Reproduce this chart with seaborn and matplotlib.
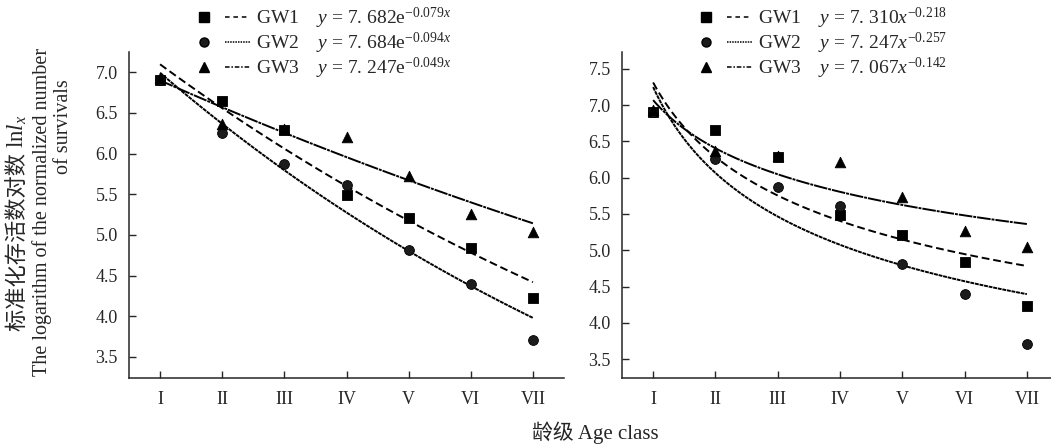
import numpy as np
import pandas as pd
import seaborn as sns
import matplotlib.pyplot as plt
from matplotlib.lines import Line2D
from matplotlib.legend_handler import HandlerTuple

age_classes = ["I", "II", "III", "IV", "V", "VI", "VII"]
groups = ["GW1", "GW2", "GW3"]
gw1 = [6.91, 6.65, 6.29, 5.49, 5.21, 4.84, 4.23]
gw2 = [6.91, 6.25, 5.87, 5.61, 4.81, 4.40, 3.71]
gw3 = [6.93, 6.37, 6.30, 6.21, 5.73, 5.26, 5.04]

# fitted equations shown in the legends: y = a*exp(b*x) and y = a*x**b
exp_a = [7.682, 7.684, 7.247]
exp_b = [-0.079, -0.094, -0.049]
pow_a = [7.310, 7.247, 7.067]
pow_b = [-0.218, -0.257, -0.142]
exp_labels = ["7. 682e$^{-0.079x}$", "7. 684e$^{-0.094x}$", "7. 247e$^{-0.049x}$"]
pow_labels = ["7. 310$x^{-0.218}$", "7. 247$x^{-0.257}$", "7. 067$x^{-0.142}$"]

sns.set_style("ticks")
plt.rcParams["font.family"] = ["Liberation Serif", "Noto Sans CJK SC"]
plt.rcParams["mathtext.fontset"] = "custom"
plt.rcParams["mathtext.rm"] = "Liberation Serif"
plt.rcParams["mathtext.it"] = "Liberation Serif:italic"

pts = pd.DataFrame({
    "x": list(range(1, 8)) * 3,
    "y": gw1 + gw2 + gw3,
    "group": [g for g in groups for _ in range(7)],
})

xs = np.linspace(1, 7, 120)
exp_df = pd.DataFrame({
    "x": np.tile(xs, 3),
    "y": np.concatenate([a * np.exp(b * xs) for a, b in zip(exp_a, exp_b)]),
    "group": np.repeat(groups, len(xs)),
})
pow_df = pd.DataFrame({
    "x": np.tile(xs, 3),
    "y": np.concatenate([a * xs ** b for a, b in zip(pow_a, pow_b)]),
    "group": np.repeat(groups, len(xs)),
})

markers = {"GW1": "s", "GW2": "o", "GW3": "^"}
curve_dashes = {"GW1": (4, 2), "GW2": (2, 0.4), "GW3": (7, 0.5, 1.5, 0.5)}
legend_dashes = {"GW1": (3, 2.5), "GW2": (1, 0.7), "GW3": (3, 1.2, 1, 1.2)}
msize = {"GW1": 42, "GW2": 50, "GW3": 58}
face = {"GW1": "black", "GW2": "#1c1c1c", "GW3": "black"}

fig = plt.figure(figsize=(10.51, 4.47), dpi=100)
ax1 = fig.add_axes([129 / 1051, 1 - 378 / 447, 435 / 1051, 326 / 447])
ax2 = fig.add_axes([622 / 1051, 1 - 378 / 447, 436 / 1051, 326 / 447])


def draw(ax, curves, ylim, yticks, labels, legx):
    sns.lineplot(data=curves, x="x", y="y", hue="group", style="group",
                 palette=["black"] * 3, dashes=curve_dashes, lw=1.4, ax=ax, legend=False)
    for g in groups:
        d = pts[pts.group == g]
        sns.scatterplot(data=d, x="x", y="y", marker=markers[g], s=msize[g],
                        color=face[g], edgecolor="black", linewidth=0.6, ax=ax,
                        zorder=3, legend=False)
    ax.set_xlim(0.5, 7.5)
    ax.set_ylim(*ylim)
    ax.set_xticks(range(1, 8))
    ax.set_xticklabels(age_classes)
    ax.set_yticks(yticks)
    ax.set_yticklabels([f"{t:.1f}" for t in yticks])
    ax.set_xlabel("")
    ax.set_ylabel("")
    sns.despine(ax=ax)
    for s in ["left", "bottom"]:
        ax.spines[s].set_linewidth(1.1)
    ax.tick_params(axis="x", direction="in", length=5, width=1, labelsize=13, pad=9)
    ax.tick_params(axis="y", direction="in", length=5, width=1, labelsize=13, pad=8)

    handles = []
    for g in groups:
        m = Line2D([], [], marker=markers[g], color="black", mfc=face[g], ls="none", ms=6.5)
        l = Line2D([], [], color="black", lw=1.1, dashes=legend_dashes[g])
        handles.append((m, l))
    texts = [f"{g}    $y$ = {lab}" for g, lab in zip(groups, labels)]
    fig.legend(handles, texts, handler_map={tuple: HandlerTuple(ndivide=None, pad=0.4)},
               loc="upper left", bbox_to_anchor=(legx, 1.005), frameon=False,
               fontsize=14, handlelength=3.0, labelspacing=0.0, handletextpad=0.3,
               borderaxespad=0)


draw(ax1, exp_df, (3.24, 7.25), [3.5, 4.0, 4.5, 5.0, 5.5, 6.0, 6.5, 7.0], exp_labels, 184 / 1051)
draw(ax2, pow_df, (3.24, 7.73), [3.5, 4.0, 4.5, 5.0, 5.5, 6.0, 6.5, 7.0, 7.5], pow_labels, 686 / 1051)

# y label: Chinese part and math part drawn separately so each gets its font
t_cn = fig.text(17 / 1051, 1 - 331 / 447, "标准化存活数对数 ", rotation=90,
                ha="center", va="bottom", fontsize=16, family=["Noto Sans CJK SC"])
fig.canvas.draw()
bb = t_cn.get_window_extent()
fig.text(17 / 1051, bb.y1 / fig.bbox.height, "ln$l_x$", rotation=90,
         ha="center", va="bottom", fontsize=16.5)
fig.text(42 / 1051, 1 - 212 / 447, "The logarithm of the normalized number", rotation=90,
         ha="center", va="center", fontsize=14.5)
fig.text(63 / 1051, 1 - 127 / 447, "of survivals", rotation=90,
         ha="center", va="center", fontsize=14.5)
fig.text(595 / 1051, 1 - 433 / 447, "龄级 Age class", ha="center", va="center", fontsize=15)

plt.savefig("out.png", dpi=100)
